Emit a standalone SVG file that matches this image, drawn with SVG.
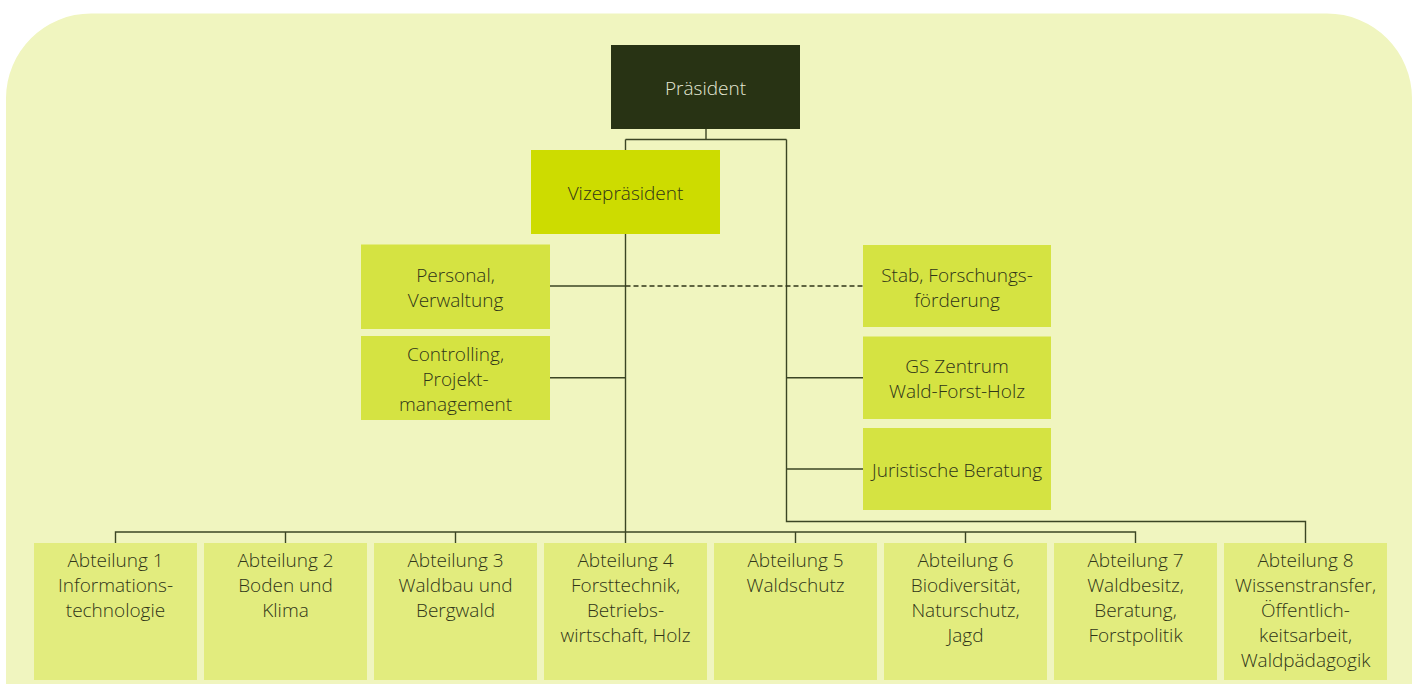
<svg xmlns="http://www.w3.org/2000/svg" width="1416" height="684" viewBox="0 0 1416 684">
<style>
text{font-family:"Open Sans","Noto Sans","Liberation Sans",sans-serif;font-size:19px;font-weight:300;fill:#2f3418;text-anchor:middle}
.pres{fill:#283314}
.vize{fill:#cddc00}
.mid{fill:#d5e342}
.abt{fill:#e2ec7e}
.ptext{fill:#e4e8d4}
.ln{fill:none;stroke:#3b4524;stroke-width:1.4}
.dash{fill:none;stroke:#2f3418;stroke-width:1.3;stroke-dasharray:5 3}
</style>
<path d="M6,98 A85,85 0 0 1 91,13.5 L1327,13.5 A85,85 0 0 1 1412,98 L1412,684 L6,684 Z" fill="#f0f5bf"/>
<g id="connectors">
<path class="ln" d="M706,129 V139.5 M625.5,139.5 H786.5 M625.5,139.5 V150 M625.5,234 V532 M786.5,139.5 V521.5 H1305.5 V543"/>
<path class="ln" d="M550,286 H625.5 M550,377.7 H625.5 M786.5,377.7 H863 M786.5,469 H863"/>
<path class="dash" d="M625.5,286 H863"/>
<path class="ln" d="M115.5,543 V532 H1135.5 V543 M285.5,532 V543 M455.5,532 V543 M625.5,532 V543 M795.5,532 V543 M965.5,532 V543"/>
</g>
<g id="praesident"><rect class="pres" x="611" y="45" width="189" height="84"/><text class="ptext" x="705.5" y="95">Präsident</text></g>
<g id="vizepraesident"><rect class="vize" x="531" y="150" width="189" height="84"/><text x="625.5" y="200">Vizepräsident</text></g>
<g id="personal"><rect class="mid" x="361" y="244.5" width="189" height="84.5"/><text x="455.5" y="282">Personal,</text><text x="455.5" y="307">Verwaltung</text></g>
<g id="controlling"><rect class="mid" x="361" y="336" width="189" height="84"/><text x="455.5" y="361">Controlling,</text><text x="455.5" y="386">Projekt-</text><text x="455.5" y="411">management</text></g>
<g id="stab"><rect class="mid" x="863" y="245" width="188" height="82"/><text x="957" y="282">Stab, Forschungs-</text><text x="957" y="307">förderung</text></g>
<g id="gs"><rect class="mid" x="863" y="336.5" width="188" height="82.5"/><text x="957" y="373">GS Zentrum</text><text x="957" y="398">Wald-Forst-Holz</text></g>
<g id="juristische"><rect class="mid" x="863" y="428" width="188" height="82"/><text x="957" y="477">Juristische Beratung</text></g>
<g id="abt1"><rect class="abt" x="34" y="543" width="163" height="137"/><text x="115.5" y="567">Abteilung 1</text><text x="115.5" y="592">Informations-</text><text x="115.5" y="617">technologie</text></g>
<g id="abt2"><rect class="abt" x="204" y="543" width="163" height="137"/><text x="285.5" y="567">Abteilung 2</text><text x="285.5" y="592">Boden und</text><text x="285.5" y="617">Klima</text></g>
<g id="abt3"><rect class="abt" x="374" y="543" width="163" height="137"/><text x="455.5" y="567">Abteilung 3</text><text x="455.5" y="592">Waldbau und</text><text x="455.5" y="617">Bergwald</text></g>
<g id="abt4"><rect class="abt" x="544" y="543" width="163" height="137"/><text x="625.5" y="567">Abteilung 4</text><text x="625.5" y="592">Forsttechnik,</text><text x="625.5" y="617">Betriebs-</text><text x="625.5" y="642">wirtschaft, Holz</text></g>
<g id="abt5"><rect class="abt" x="714" y="543" width="163" height="137"/><text x="795.5" y="567">Abteilung 5</text><text x="795.5" y="592">Waldschutz</text></g>
<g id="abt6"><rect class="abt" x="884" y="543" width="163" height="137"/><text x="965.5" y="567">Abteilung 6</text><text x="965.5" y="592">Biodiversität,</text><text x="965.5" y="617">Naturschutz,</text><text x="965.5" y="642">Jagd</text></g>
<g id="abt7"><rect class="abt" x="1054" y="543" width="163" height="137"/><text x="1135.5" y="567">Abteilung 7</text><text x="1135.5" y="592">Waldbesitz,</text><text x="1135.5" y="617">Beratung,</text><text x="1135.5" y="642">Forstpolitik</text></g>
<g id="abt8"><rect class="abt" x="1224" y="543" width="163" height="137"/><text x="1305.5" y="567">Abteilung 8</text><text x="1305.5" y="592">Wissenstransfer,</text><text x="1305.5" y="617">Öffentlich-</text><text x="1305.5" y="642">keitsarbeit,</text><text x="1305.5" y="667">Waldpädagogik</text></g>
</svg>
